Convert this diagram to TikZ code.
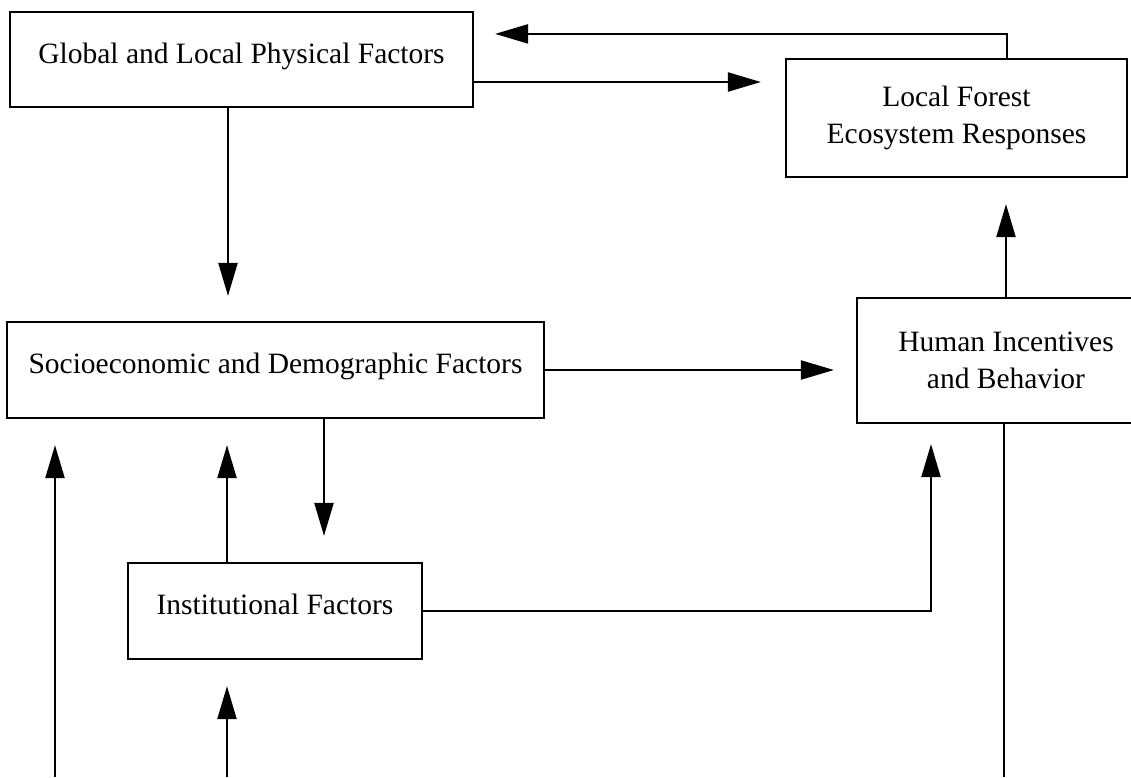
\documentclass[tikz,border=0pt]{standalone}
\usepackage{fontspec}
\setmainfont{Liberation Serif}
\usetikzlibrary{arrows.meta}
\begin{document}
\begin{tikzpicture}[x=1pt,y=-1pt,
  box/.style={draw, line width=2.2pt, rectangle, inner sep=0pt, align=center,
    font=\fontsize{29.5}{37}\selectfont},
  onebox/.style={box, text height=20.5pt, text depth=13.5pt},
  conn/.style={line width=2.2pt},
  arr/.style={conn, -{Triangle[length=33pt,width=19pt]}}]
\useasboundingbox (0,0) rectangle (1131,777);
\fill[white] (0,0) rectangle (1131,777);
\clip (0,0) rectangle (1131,777);
% boxes
\node[onebox, minimum width=463pt, minimum height=95pt] (G) at (241.5,59.5) {Global and Local Physical Factors};
\node[box, minimum width=341pt, minimum height=118pt] (F) at (956.5,118) {Local Forest\\Ecosystem Responses};
\node[onebox, minimum width=537pt, minimum height=96pt] (S) at (275.5,370) {Socioeconomic and Demographic Factors};
\node[onebox, minimum width=294pt, minimum height=96pt] (I) at (275,611) {Institutional Factors};
\node[box, minimum width=298pt, minimum height=125pt] (H) at (1006,360.5) {Human Incentives\\and Behavior};
% helper coordinates
\coordinate (g1) at ([yshift=-22.5]G.east);
\coordinate (f1) at ([xshift=50.5]F.north);
\coordinate (f2) at ([yshift=24]f1);
\coordinate (s1) at ([xshift=48.5]S.south);
\coordinate (i1) at ([xshift=-48]I.north);
\coordinate (g2) at ([xshift=-13.5]G.south);
\coordinate (h1) at ([xshift=-75]H.south);
\coordinate (b1) at (55,777);
\coordinate (b2) at (227,777);
\coordinate (b3) at (1004,777);
% connectors
\draw[arr, shorten >=25pt] (g2) -- (g2 |- S.north);
\draw[arr, shorten >=24pt] (g1) -- (g1 -| F.west);
\draw[arr, shorten >=21pt] (f1) -- (f2) -- (f2 -| G.east);
\draw[arr, shorten >=22pt] (S.east) -- (S.east -| H.west);
\draw[arr, shorten >=26pt] (s1) -- (s1 |- I.north);
\draw[arr, shorten >=26pt] (i1) -- (i1 |- S.south);
\draw[arr, shorten >=20pt] (I.east) -| (h1);
\draw[arr, shorten >=26pt] (H.north) -- (H.north |- F.south);
\draw[conn] (b3 |- H.south) -- (b3);
\draw[arr, shorten >=26pt] (b1) -- (b1 |- S.south);
\draw[arr, shorten >=26pt] (b2) -- (b2 |- I.south);
\end{tikzpicture}
\end{document}
